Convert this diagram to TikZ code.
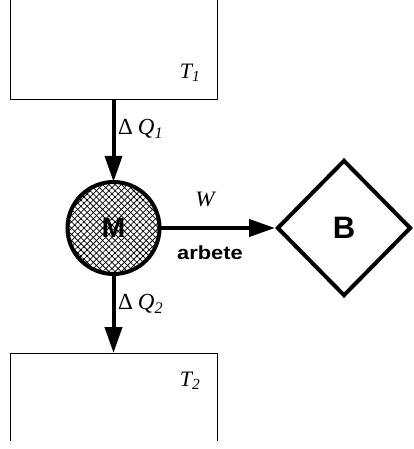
\documentclass[tikz,border=0pt]{standalone}
\usepackage{fontspec}
\usepackage{graphicx}
\setmainfont{Liberation Serif}
\setsansfont{Liberation Sans}
\usetikzlibrary{arrows.meta,shapes.geometric,patterns.meta}
\tikzset{
  reservoir/.style={rectangle,minimum width=207pt,inner sep=0pt,outer sep=0pt},
  thin line/.style={line width=1pt},
  flow/.style={line width=4pt,-{Triangle[length=26pt,width=17pt]}},
  lbl/.style={font=\fontsize{22}{24}\selectfont\itshape,inner sep=0pt},
  qlbl/.style={font=\fontsize{23}{25}\selectfont\itshape,inner sep=0pt,anchor=west},
  hatch/.style={pattern={Lines[angle=#1,distance=4.4pt,line width=0.75pt]}},
}
\begin{document}
\begin{tikzpicture}[x=1pt,y=-1pt]
\useasboundingbox (0,0) rectangle (414,449);
% reservoirs
\node[reservoir,minimum height=100pt] (t1) at (113.5,50) {};
\node[reservoir,minimum height=88pt] (t2) at (113.5,397) {};
\draw[thin line] (t1.north west) -- (t1.south west) -- (t1.south east) -- (t1.north east);
\draw[thin line] (t2.south west) -- (t2.north west) -- (t2.north east) -- (t2.south east);
% engine
\node[circle,minimum size=92pt,inner sep=0pt] (m) at (113.5,228) {};
\fill[white] (m.center) circle (46pt);
\fill[hatch=45] (m.center) circle (46pt);
\fill[hatch=-45] (m.center) circle (46pt);
\draw[line width=4pt] (m.center) circle (46pt);
\node[font=\sffamily\bfseries\fontsize{28}{30}\selectfont] (mlabel) at (m.center) {M};
% work receiver
\node[diamond,draw,line width=4pt,minimum width=134pt,minimum height=136pt,inner sep=0pt,
      font=\sffamily\bfseries\fontsize{31}{33}\selectfont] (b) at (344,228) {B};
% flows
\draw[flow] (t1.south) -- (m.north);
\draw[flow] (m.south) -- (t2.north);
\draw[flow] (m.east) -- (b.west);
% labels
\node[qlbl] (q1) at (118,129) {\upshape Δ\hspace{5pt}\itshape Q\textsubscript{1}};
\node[qlbl] (q2) at (118,304) {\upshape Δ\hspace{5pt}\itshape Q\textsubscript{2}};
\node[lbl] (w) at (205,199) {\scalebox{1.05}[1]{W}};
\node[font=\sffamily\bfseries\fontsize{19}{21}\selectfont,inner sep=0pt] (arb) at (210,253) {\scalebox{1.15}[1]{arbete}};
\node[lbl] (tl1) at (190,73) {T\textsubscript{1}};
\node[lbl] (tl2) at (190,381) {T\textsubscript{2}};
\end{tikzpicture}
\end{document}
